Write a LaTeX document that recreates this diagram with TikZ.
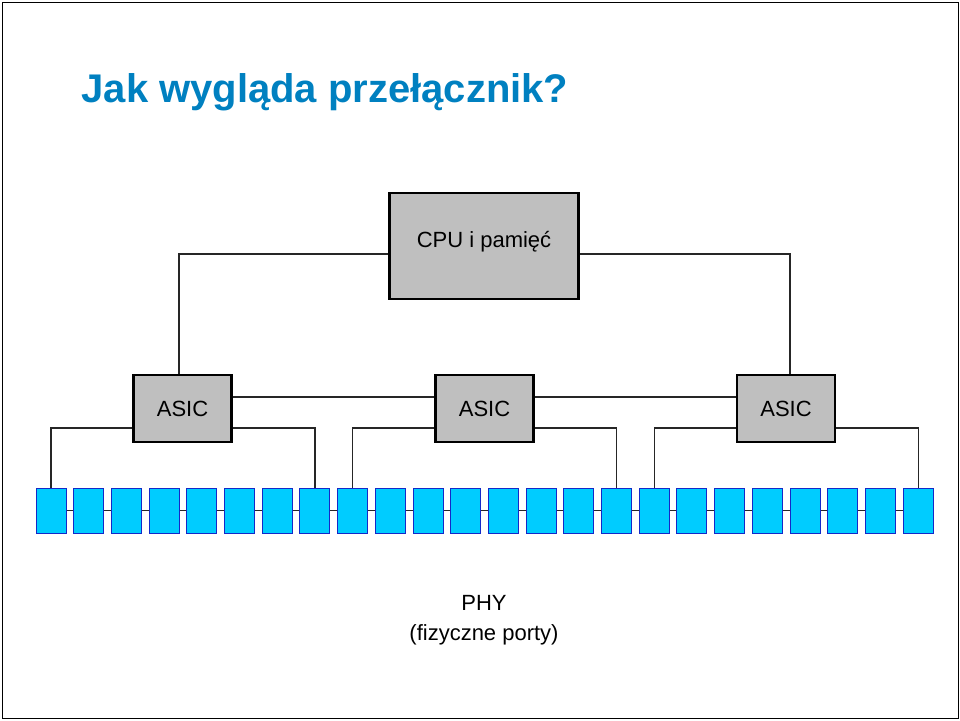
\documentclass[tikz,border=0pt]{standalone}
\usepackage{fontspec}
\setmainfont{Liberation Sans}
\definecolor{ttl}{RGB}{0,128,192}
\definecolor{port}{RGB}{0,204,255}
\definecolor{pblue}{RGB}{20,40,200}
\begin{document}
\begin{tikzpicture}[x=1pt,y=-1pt,
  chip/.style={draw=black,line width=2.2pt,fill=black!25,inner sep=0pt,font=\fontsize{22}{24}\selectfont},
  portbox/.style={draw=pblue,line width=1pt,fill=port,minimum width=30pt,minimum height=45pt,inner sep=0pt},
  wire/.style={draw=black!85,line width=1.2pt}]
\draw[line width=1pt] (2,2) rectangle (958,718);
\useasboundingbox (0,0) rectangle (960,720);
\node[anchor=west,text=ttl,font=\bfseries\fontsize{40}{44}\selectfont] (title) at (78,92) {Jak wygląda przełącznik?};
\node[chip,minimum width=189pt,minimum height=106pt] (cpu) at (484,246) {\raisebox{14pt}{CPU i pamięć}};
\node[chip,minimum width=98pt,minimum height=67pt] (a1) at (182.5,408.5) {ASIC};
\node[chip,minimum width=98pt,minimum height=67pt] (a2) at (484.5,408.5) {ASIC};
\node[chip,minimum width=98pt,minimum height=67pt] (a3) at (786,408.5) {ASIC};
\foreach \i in {1,...,24}{
  \pgfmathsetmacro{\px}{51+(\i-1)*37.7}
  \coordinate (pc\i) at (\px,510.5);
}
\draw[wire] (pc1) -- (pc24);
\foreach \i in {1,...,24}{\node[portbox] (p\i) at (pc\i) {};}
\draw[wire] (cpu.west|-0,254) -| (a1.north-|179,0);
\draw[wire] (cpu.east|-0,254) -| (a3.north-|790,0);
\draw[wire] (a1.east|-0,397) -- (a2.west|-0,397);
\draw[wire] (a2.east|-0,397) -- (a3.west|-0,397);
\draw[wire] (a1.west|-0,428) -| (p1.north);
\draw[wire] (a1.east|-0,428) -| (p8.north);
\draw[wire] (a2.west|-0,428) -| (p9.north);
\draw[wire] (a2.east|-0,428) -| (p16.north);
\draw[wire] (a3.west|-0,428) -| (p17.north);
\draw[wire] (a3.east|-0,428) -| (p24.north);
\node[align=center,font=\fontsize{22}{30}\selectfont] (phy) at (484,620) {PHY\\(fizyczne porty)};
\end{tikzpicture}
\end{document}
